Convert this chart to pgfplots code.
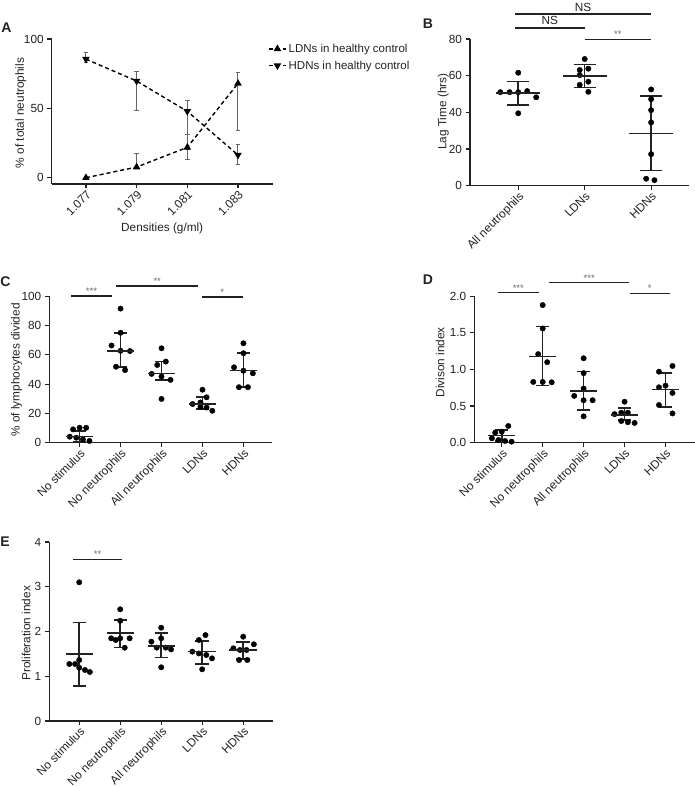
\documentclass[border=0pt]{standalone}
\usepackage{pgfplots}
\pgfplotsset{compat=1.18}
\usepackage{fontspec}
\setmainfont{Liberation Sans}
\definecolor{txt}{HTML}{222222}
\definecolor{ebar}{HTML}{666666}
\definecolor{star}{HTML}{666666}
\newcommand\lbl{\fontsize{11.8}{13.5}\selectfont}
\newcommand\tkl{\fontsize{11.8}{13.5}\selectfont}
\tikzset{
  sig/.style={line width=1.6pt, draw=txt},
  stars/.style={font=\fontsize{9.5}{10}\selectfont, text=star, inner sep=0.8pt},
}
\pgfplotsset{
  panel/.style={
    scale only axis,
    axis lines*=left,
    axis line style={line width=1.3pt, txt},
    tick align=outside,
    major tick length=4.5pt,
    tick style={line width=1.2pt, txt},
    every tick label/.append style={font=\tkl, text=txt},
    label style={font=\lbl, text=txt},
    /pgf/number format/assume math mode=true,
    clip=false,
  },
  cat/.style={xticklabel style={rotate=45, anchor=north east, inner sep=0.6pt}},
  dots/.style={only marks, mark=*, mark size=2.7pt, mark options={fill=black, draw=black}},
  msd/.style 2 args={only marks, mark=-, mark size=#1, mark options={line width=1.6pt, draw=txt},
    error bars/y dir=both, error bars/y explicit, error bars/error mark=-,
    error bars/error mark options={rotate=90, mark size=#2, line width=1.6pt, draw=txt},
    error bars/error bar style={line width=1.6pt, txt}},
}
\begin{document}
\begin{tikzpicture}[x=1pt,y=1pt]
\useasboundingbox (0pt,0pt) rectangle (695pt,787pt);
% panel letters
\node[font=\fontsize{14}{16}\selectfont\bfseries, text=txt] at (6.5pt,759pt) {A};
\node[font=\fontsize{14}{16}\selectfont\bfseries, text=txt] at (428pt,763pt) {B};
\node[font=\fontsize{14}{16}\selectfont\bfseries, text=txt] at (5.5pt,505pt) {C};
\node[font=\fontsize{14}{16}\selectfont\bfseries, text=txt] at (428pt,507pt) {D};
\node[font=\fontsize{14}{16}\selectfont\bfseries, text=txt] at (5pt,245pt) {E};

% ---------------- A
\begin{axis}[panel, at={(51.7pt,603pt)}, anchor=south west, width=221pt, height=145pt,
  xmin=1.07565, xmax=1.08437, ymin=-4.5, ymax=100,
  xtick={1.077,1.079,1.081,1.083}, xticklabels={1.077,1.079,1.081,1.083},
  scaled x ticks=false,
  xticklabel style={rotate=45, anchor=north east, inner sep=0.6pt},
  ytick={0,50,100},
  xlabel={Densities (g/ml)}, ylabel={\% of total neutrophils},
  xlabel style={at={(axis description cs:0.5,-0.31)}, anchor=center},
  ylabel style={at={(axis description cs:-0.14,0.49)}, anchor=center},
  legend style={draw=none, fill=none, at={(0.965,0.995)}, anchor=north west, font=\fontsize{11.5}{13.5}\selectfont, text=txt, row sep=3pt},
  legend cell align=left]
\addplot[black, line width=1.4pt, dash pattern=on 4pt off 3pt, mark=triangle*, mark size=3pt, mark options={solid},
  error bars/y dir=both, error bars/y explicit,
  error bars/error bar style={ebar, line width=1pt, solid},
  error bars/error mark options={rotate=90, ebar, mark size=2.4pt, line width=1pt, solid}]
  coordinates {(1.077,0) += (0,0) -= (0,0)
               (1.079,7.7) += (0,9.9) -= (0,0)
               (1.081,21.9) += (0,9) -= (0,9.1)
               (1.083,68) += (0,7.7) -= (0,33.6)};
\addlegendentry{LDNs in healthy control}
\addplot[black, line width=1.4pt, dash pattern=on 4pt off 3pt, mark=triangle*, mark size=3pt, mark options={solid, rotate=180},
  error bars/y dir=both, error bars/y explicit,
  error bars/error bar style={ebar, line width=1pt, solid},
  error bars/error mark options={rotate=90, ebar, mark size=2.4pt, line width=1pt, solid}]
  coordinates {(1.077,85.5) += (0,4.9) -= (0,2.3)
               (1.079,69.7) += (0,7.2) -= (0,20.9)
               (1.081,47.9) += (0,7.9) -= (0,27.4)
               (1.083,16.4) += (0,7.4) -= (0,7.2)};
\addlegendentry{HDNs in healthy control}
\end{axis}

% ---------------- B
\begin{axis}[panel, cat, at={(470pt,601.3pt)}, anchor=south west, width=219pt, height=146.7pt,
  xmin=-0.726, xmax=2.57, ymin=0, ymax=80,
  xtick={0,1,2}, xticklabels={All neutrophils,LDNs,HDNs},
  ytick={0,20,40,60,80},
  ylabel={Lag Time (hrs)},
  ylabel style={at={(axis description cs:-0.122,0.504)}, anchor=center}]
\addplot[dots] coordinates {(0,61.6) (-0.27,51) (-0.13,51) (0,51) (0.135,51.6) (0.27,48.2) (0,39.5)
  (1,69.1) (0.925,63.1) (1.055,63.8) (0.925,60.3) (1.055,56.7) (0.925,55) (1.055,51.2)
  (2,52.5) (2,47.2) (2,41.2) (2,34.5) (2,17.2) (1.925,3.8) (2.05,3)};
\addplot[msd={22pt}{11pt}] coordinates {(0,50.6) += (0,6.3) -= (0,6.6)
  (1,59.8) += (0,6.3) -= (0,6.2) (2,28.5) += (0,20.3) -= (0,20.3)};
\draw[sig] (axis cs:-0.05,93.6) -- node[above, font=\lbl, text=txt, inner sep=2pt]{NS} (axis cs:2,93.6);
\draw[sig] (axis cs:-0.05,86.1) -- node[above, font=\lbl, text=txt, inner sep=2pt]{NS} (axis cs:1,86.1);
\draw[sig] (axis cs:1,79.8) -- node[above, stars]{**} (axis cs:2,79.8);
\end{axis}

% ---------------- C
\begin{axis}[panel, cat, at={(49.3pt,344.3pt)}, anchor=south west, width=222.4pt, height=146.4pt,
  xmin=-0.74, xmax=4.69, ymin=0, ymax=100,
  xtick={0,1,2,3,4}, xticklabels={No stimulus,No neutrophils,All neutrophils,LDNs,HDNs},
  ytick={0,20,40,60,80,100},
  ylabel={\% of lymphocytes divided},
  ylabel style={at={(axis description cs:-0.147,0.497)}, anchor=center}]
\addplot[dots] coordinates {(-0.16,9.1) (0,10.2) (0.16,10.2) (-0.24,4.1) (-0.08,3.4) (0.08,2.3) (0.24,1.2)
  (1,91.6) (1,75.1) (0.78,66.4) (1,62.8) (1.23,62.6) (0.89,51.9) (1.11,49.6)
  (2,64.5) (2.105,55.4) (1.895,53.1) (1.76,47) (2,45.2) (2.22,42.9) (2,29.9)
  (3,36.2) (3.1,31) (2.76,26.4) (2.95,27.5) (2.95,24.5) (3.1,24) (3.24,21.8)
  (4,67.9) (4,61.1) (3.77,51.5) (4,49.2) (4.23,47.4) (3.89,37.9) (4.11,37.9)};
\addplot[msd={13.7pt}{6.7pt}] coordinates {(0,4.2) += (0,3.6) -= (0,3.7)
  (1,62.8) += (0,12.3) -= (0,10.9) (2,47.3) += (0,8.1) -= (0,4.4)
  (3,26.4) += (0,5) -= (0,3.2) (4,49.2) += (0,11.9) -= (0,11.3)};
\draw[sig] (axis cs:-0.22,100.4) -- node[above, stars]{***} (axis cs:0.8,100.4);
\draw[sig] (axis cs:0.9,107.2) -- node[above, stars]{**} (axis cs:2.89,107.2);
\draw[sig] (axis cs:2.99,99.7) -- node[above, stars]{*} (axis cs:3.98,99.7);
\end{axis}

% ---------------- D
\begin{axis}[panel, cat, at={(474.3pt,344.3pt)}, anchor=south west, width=220.7pt, height=146.4pt,
  xmin=-0.67, xmax=4.72, ymin=0, ymax=2,
  xtick={0,1,2,3,4}, xticklabels={No stimulus,No neutrophils,All neutrophils,LDNs,HDNs},
  ytick={0,0.5,1,1.5,2},
  yticklabel style={/pgf/number format/.cd, fixed, fixed zerofill, precision=1},
  ylabel={Divison index},
  ylabel style={at={(axis description cs:-0.155,0.55)}, anchor=center}]
\addplot[dots] coordinates {(0.16,0.228) (-0.16,0.137) (0,0.15) (-0.24,0.06) (-0.08,0.037) (0.08,0.023) (0.24,0.014)
  (1,1.88) (1,1.56) (0.89,1.21) (1.11,1.1) (0.77,0.83) (1,0.83) (1.22,0.825)
  (2,1.153) (2,0.95) (2,0.74) (1.77,0.64) (2.22,0.58) (2,0.58) (2,0.36)
  (3,0.56) (2.755,0.39) (2.92,0.41) (3.08,0.41) (2.92,0.296) (3.08,0.28) (3.245,0.27)
  (4.17,1.048) (3.84,0.97) (4,0.78) (3.84,0.757) (4.17,0.68) (3.84,0.515) (4.17,0.40)};
\addplot[msd={13.7pt}{6.7pt}] coordinates {(0,0.096) += (0,0.074) -= (0,0.074)
  (1,1.18) += (0,0.405) -= (0,0.4) (2,0.71) += (0,0.26) -= (0,0.263)
  (3,0.378) += (0,0.092) -= (0,0.07) (4,0.724) += (0,0.232) -= (0,0.234)};
\draw[sig] (axis cs:-0.1,2.05) -- node[above, stars]{***} (axis cs:0.91,2.05);
\draw[sig] (axis cs:1.16,2.186) -- node[above, stars]{***} (axis cs:3.11,2.186);
\draw[sig] (axis cs:3.13,2.04) -- node[above, stars]{*} (axis cs:4.1,2.04);
\end{axis}

% ---------------- E
\begin{axis}[panel, cat, at={(49.3pt,66pt)}, anchor=south west, width=223.4pt, height=179pt,
  xmin=-0.73, xmax=4.72, ymin=0, ymax=4,
  xtick={0,1,2,3,4}, xticklabels={No stimulus,No neutrophils,All neutrophils,LDNs,HDNs},
  ytick={0,1,2,3,4},
  ylabel={Proliferation index},
  ylabel style={at={(axis description cs:-0.104,0.49)}, anchor=center}]
\addplot[dots] coordinates {(0,3.1) (0,1.363) (-0.24,1.274) (-0.1,1.274) (0,1.19) (0.14,1.14) (0.26,1.095)
  (1,2.496) (1,2.24) (0.78,1.848) (0.89,1.81) (1,1.848) (1.23,1.848) (1.11,1.638)
  (2,2.085) (2,1.848) (1.76,1.773) (1.89,1.64) (2.11,1.64) (2.24,1.6) (2,1.2)
  (3.08,1.92) (2.92,1.81) (2.76,1.55) (2.92,1.51) (3.1,1.475) (3.24,1.4) (3,1.155)
  (4,1.884) (4.26,1.714) (3.76,1.624) (3.92,1.587) (4.08,1.587) (3.9,1.363) (4.1,1.363)};
\addplot[msd={13.7pt}{6.7pt}] coordinates {(0,1.497) += (0,0.708) -= (0,0.715)
  (1,1.96) += (0,0.297) -= (0,0.314) (2,1.676) += (0,0.284) -= (0,0.261)
  (3,1.55) += (0,0.24) -= (0,0.27) (4,1.587) += (0,0.183) -= (0,0.207)};
\draw[sig] (axis cs:-0.15,3.61) -- node[above, stars]{**} (axis cs:1.05,3.61);
\end{axis}
\end{tikzpicture}
\end{document}
